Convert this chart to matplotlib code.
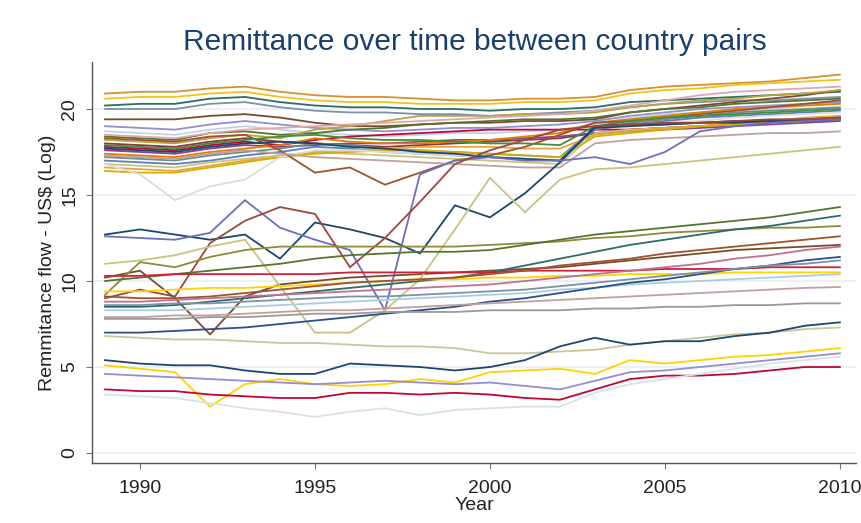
import numpy as np
import matplotlib
matplotlib.use('Agg')
import matplotlib.pyplot as plt

plt.rcParams['font.family'] = ['Liberation Sans', 'DejaVu Sans']

years = list(range(1989, 2011))

# upper cluster (log remittance, 1989-2010)
u01 = [20.9, 21.0, 21.0, 21.2, 21.3, 21.0, 20.8, 20.7, 20.7, 20.6, 20.5, 20.5, 20.6, 20.6, 20.7, 21.1, 21.3, 21.4, 21.5, 21.6, 21.8, 22.0]
u02 = [20.6, 20.7, 20.7, 20.9, 21.0, 20.7, 20.5, 20.4, 20.4, 20.3, 20.3, 20.3, 20.4, 20.4, 20.5, 20.9, 21.1, 21.2, 21.4, 21.5, 21.6, 21.7]
u03 = [20.2, 20.3, 20.3, 20.6, 20.7, 20.4, 20.2, 20.1, 20.1, 20.0, 20.0, 19.9, 20.0, 20.0, 20.1, 20.4, 20.5, 20.6, 20.7, 20.8, 20.9, 21.0]
u04 = [20.0, 20.0, 20.0, 20.3, 20.4, 20.1, 19.9, 19.8, 19.8, 19.7, 19.7, 19.6, 19.7, 19.8, 19.9, 20.1, 20.3, 20.4, 20.5, 20.5, 20.6, 20.7]
u05 = [19.4, 19.4, 19.4, 19.6, 19.7, 19.5, 19.2, 19.0, 19.0, 19.1, 19.2, 19.2, 19.3, 19.3, 19.4, 19.8, 20.0, 20.2, 20.4, 20.6, 20.8, 21.1]
u06 = [19.0, 18.9, 18.8, 19.1, 19.3, 19.1, 18.9, 18.8, 18.7, 18.8, 18.9, 18.9, 19.0, 19.1, 19.3, 19.6, 19.8, 20.0, 20.1, 20.2, 20.3, 20.4]
u07 = [18.7, 18.6, 18.5, 18.8, 19.0, 18.8, 18.6, 18.5, 18.4, 18.5, 18.6, 18.6, 18.7, 18.8, 19.1, 19.5, 19.7, 19.8, 19.9, 20.0, 20.2, 20.3]
u08 = [18.4, 18.3, 18.2, 18.6, 18.7, 18.5, 18.6, 18.8, 18.9, 19.1, 19.2, 19.3, 19.4, 19.4, 19.5, 19.8, 20.0, 20.1, 20.3, 20.4, 20.5, 20.6]
u09 = [18.2, 18.1, 18.0, 18.3, 18.5, 18.3, 18.8, 19.0, 19.3, 19.6, 19.6, 19.6, 19.7, 19.7, 19.8, 20.1, 20.3, 20.5, 20.6, 20.8, 20.9, 21.1]
u10 = [18.0, 17.9, 17.8, 18.1, 18.3, 18.1, 18.0, 17.9, 17.8, 17.9, 18.0, 18.1, 18.2, 18.3, 18.6, 18.8, 18.9, 19.0, 19.1, 19.2, 19.3, 19.4]
u11 = [17.8, 17.7, 17.6, 17.9, 18.1, 17.9, 18.2, 18.4, 18.5, 18.6, 18.7, 18.8, 18.8, 18.8, 18.8, 18.8, 18.9, 19.0, 19.1, 19.2, 19.3, 19.4]
u12 = [17.6, 17.5, 17.4, 17.7, 17.9, 17.8, 17.9, 18.0, 18.0, 18.1, 18.2, 18.2, 18.3, 18.4, 18.6, 18.7, 18.8, 18.9, 19.0, 19.1, 19.2, 19.3]
u13 = [17.4, 17.3, 17.2, 17.5, 17.7, 17.9, 18.3, 18.1, 18.0, 18.0, 18.1, 18.2, 18.4, 18.6, 19.2, 19.4, 19.6, 19.8, 20.0, 20.1, 20.2, 20.3]
u14 = [17.2, 17.1, 17.0, 17.3, 17.5, 17.7, 18.0, 17.9, 17.7, 17.6, 17.5, 17.4, 17.3, 17.2, 18.9, 19.2, 19.4, 19.6, 19.8, 19.9, 20.0, 20.1]
u15 = [17.0, 16.9, 16.8, 17.0, 17.3, 17.5, 17.8, 17.7, 17.5, 17.4, 17.3, 17.2, 17.1, 17.0, 18.8, 19.1, 19.3, 19.5, 19.6, 19.7, 19.8, 19.9]
u16 = [16.8, 16.7, 16.6, 16.9, 17.1, 17.3, 17.5, 17.4, 17.3, 17.2, 17.1, 17.0, 16.9, 16.8, 18.6, 18.8, 18.9, 19.0, 19.1, 19.2, 19.3, 19.4]
u17 = [16.6, 16.5, 16.4, 16.7, 17.0, 17.2, 17.5, 17.6, 17.7, 17.8, 17.8, 17.8, 17.7, 17.7, 18.5, 18.7, 18.9, 19.0, 19.2, 19.3, 19.5, 19.6]
u18 = [16.4, 16.3, 16.3, 16.6, 16.9, 17.2, 17.4, 17.5, 17.6, 17.6, 17.5, 17.4, 17.3, 17.2, 18.4, 18.6, 18.8, 19.0, 19.1, 19.2, 19.3, 19.5]
u19 = [16.8, 16.2, 14.7, 15.5, 15.9, 17.2, 17.6, 17.6, 17.5, 17.4, 17.3, 17.2, 17.1, 17.0, 18.9, 19.1, 19.2, 19.3, 19.5, 19.6, 19.7, 19.8]
u20 = [18.3, 18.2, 18.1, 18.4, 18.5, 17.6, 16.3, 16.6, 15.6, 16.3, 17.0, 17.3, 17.8, 18.5, 19.2, 19.3, 19.5, 19.7, 19.9, 20.1, 20.3, 20.5]
u21 = [17.9, 17.8, 17.7, 18.0, 18.2, 18.4, 18.5, 18.3, 18.2, 18.2, 18.1, 18.0, 18.0, 17.9, 19.0, 19.3, 19.5, 19.6, 19.7, 19.8, 19.9, 20.0]
u22 = [17.7, 17.6, 17.5, 17.8, 18.0, 18.1, 18.0, 17.8, 17.7, 17.5, 17.4, 17.2, 17.1, 17.0, 18.9, 19.0, 19.1, 19.2, 19.3, 19.3, 19.4, 19.5]
u23 = [18.5, 18.4, 18.3, 18.6, 18.8, 18.9, 19.0, 19.1, 19.2, 19.3, 19.4, 19.5, 19.6, 19.7, 19.9, 20.2, 20.5, 20.8, 21.0, 21.1, 21.2, 21.3]
u24 = [17.3, 17.2, 17.1, 17.4, 17.6, 17.4, 17.2, 17.1, 17.0, 16.9, 16.8, 16.7, 16.6, 16.6, 18.0, 18.2, 18.3, 18.4, 18.5, 18.6, 18.6, 18.7]

# middle cluster, incl. the zigzag pairs
m01 = [12.7, 13.0, 12.7, 12.4, 12.7, 11.3, 13.4, 13.0, 12.5, 11.6, 14.4, 13.7, 15.1, 16.9, 19.0, 19.1, 19.1, 19.2, 19.2, 19.3, 19.3, 19.4]
m02 = [12.6, 12.5, 12.4, 12.8, 14.7, 13.1, 12.4, 11.8, 8.3, 16.2, 17.0, 17.2, 17.0, 17.0, 17.2, 16.8, 17.5, 18.7, 19.0, 19.2, 19.3, 19.4]
m03 = [9.0, 9.5, 9.1, 12.2, 13.5, 14.3, 13.9, 10.8, 12.5, 14.6, 16.8, 17.6, 18.2, 18.8, 19.0, 19.1, 19.2, 19.2, 19.3, 19.4, 19.4, 19.5]
m04 = [10.2, 10.6, 9.0, 6.9, 9.1, 9.8, 10.0, 10.2, 10.3, 10.4, 10.5, 10.6, 10.7, 10.8, 11.0, 11.2, 11.4, 11.6, 11.8, 11.9, 12.0, 12.1]
m05 = [11.0, 11.2, 11.5, 12.0, 12.4, 9.7, 7.0, 7.0, 8.3, 10.1, 13.0, 16.0, 14.0, 15.9, 16.5, 16.6, 16.8, 17.0, 17.2, 17.4, 17.6, 17.8]
m06 = [9.2, 11.1, 10.8, 11.4, 11.8, 12.0, 12.0, 12.0, 12.0, 12.0, 12.0, 12.1, 12.2, 12.3, 12.5, 12.6, 12.8, 12.9, 13.0, 13.1, 13.1, 13.2]
m07 = [10.0, 10.2, 10.4, 10.6, 10.8, 11.0, 11.3, 11.5, 11.6, 11.7, 11.7, 11.8, 12.1, 12.4, 12.7, 12.9, 13.1, 13.3, 13.5, 13.7, 14.0, 14.3]
m08 = [8.5, 8.5, 8.6, 8.8, 9.0, 9.2, 9.4, 9.6, 9.8, 10.0, 10.2, 10.5, 10.9, 11.3, 11.7, 12.1, 12.4, 12.7, 13.0, 13.2, 13.5, 13.8]
m09 = [10.3, 10.3, 10.4, 10.4, 10.4, 10.4, 10.4, 10.5, 10.5, 10.5, 10.5, 10.5, 10.6, 10.6, 10.6, 10.6, 10.7, 10.7, 10.7, 10.8, 10.8, 10.8]
m10 = [9.4, 9.4, 9.5, 9.6, 9.6, 9.7, 9.8, 9.9, 10.0, 10.1, 10.1, 10.2, 10.2, 10.3, 10.3, 10.4, 10.4, 10.4, 10.5, 10.5, 10.5, 10.5]
m11 = [9.1, 9.0, 9.0, 9.1, 9.3, 9.5, 9.7, 9.9, 10.0, 10.1, 10.2, 10.4, 10.6, 10.9, 11.1, 11.3, 11.6, 11.8, 12.0, 12.2, 12.4, 12.6]
m12 = [8.8, 8.8, 8.9, 9.0, 9.1, 9.2, 9.3, 9.4, 9.5, 9.6, 9.7, 9.8, 10.0, 10.2, 10.4, 10.6, 10.8, 11.0, 11.3, 11.5, 11.8, 12.0]
m13 = [8.3, 8.3, 8.3, 8.4, 8.5, 8.6, 8.7, 8.8, 8.9, 9.0, 9.1, 9.2, 9.3, 9.5, 9.6, 9.8, 9.9, 10.0, 10.1, 10.2, 10.3, 10.4]
m14 = [7.0, 7.0, 7.1, 7.2, 7.3, 7.5, 7.7, 7.9, 8.1, 8.3, 8.5, 8.8, 9.0, 9.3, 9.6, 9.9, 10.1, 10.4, 10.7, 10.9, 11.2, 11.4]
m15 = [7.9, 7.9, 8.0, 8.0, 8.1, 8.2, 8.3, 8.3, 8.4, 8.5, 8.6, 8.7, 8.8, 8.9, 9.0, 9.1, 9.2, 9.3, 9.4, 9.5, 9.6, 9.65]
m16 = [7.8, 7.8, 7.8, 7.9, 7.9, 8.0, 8.1, 8.1, 8.2, 8.2, 8.2, 8.3, 8.3, 8.3, 8.4, 8.4, 8.5, 8.5, 8.6, 8.6, 8.7, 8.7]
m17 = [8.6, 8.6, 8.7, 8.7, 8.8, 8.9, 9.0, 9.1, 9.1, 9.2, 9.3, 9.4, 9.5, 9.7, 9.9, 10.1, 10.3, 10.5, 10.7, 10.9, 11.0, 11.2]
m18 = [6.8, 6.7, 6.6, 6.6, 6.5, 6.4, 6.4, 6.3, 6.2, 6.2, 6.1, 5.8, 5.8, 5.9, 6.0, 6.3, 6.5, 6.7, 6.9, 7.0, 7.2, 7.3]

# lower cluster
l01 = [5.4, 5.2, 5.1, 5.1, 4.8, 4.6, 4.6, 5.2, 5.1, 5.0, 4.8, 5.0, 5.4, 6.2, 6.7, 6.3, 6.5, 6.5, 6.8, 7.0, 7.4, 7.6]
l02 = [5.1, 4.9, 4.7, 2.7, 4.0, 4.3, 4.0, 3.9, 4.0, 4.3, 4.1, 4.7, 4.8, 4.9, 4.6, 5.4, 5.2, 5.4, 5.6, 5.7, 5.9, 6.1]
l03 = [4.6, 4.5, 4.4, 4.3, 4.2, 4.1, 4.0, 4.1, 4.2, 4.1, 4.0, 4.1, 3.9, 3.7, 4.2, 4.7, 4.8, 5.0, 5.2, 5.4, 5.6, 5.8]
l04 = [3.7, 3.6, 3.6, 3.4, 3.3, 3.2, 3.2, 3.5, 3.5, 3.4, 3.5, 3.4, 3.2, 3.1, 3.7, 4.3, 4.5, 4.5, 4.6, 4.8, 5.0, 5.0]
l05 = [3.4, 3.3, 3.2, 2.9, 2.6, 2.4, 2.1, 2.4, 2.6, 2.2, 2.5, 2.6, 2.7, 2.7, 3.5, 4.0, 4.3, 4.6, 4.9, 5.2, 5.4, 5.6]

series = [u01, u02, u03, u04, u05, u06, u07, u08, u09, u10, u11, u12,
          u13, u14, u15, u16, u17, u18, u19, u20, u21, u22, u23, u24,
          m01, m02, m03, m04, m05, m06, m07, m08, m09, m10, m11, m12,
          m13, m14, m15, m16, m17, m18,
          l01, l02, l03, l04, l05]

colors = ['#d9902f', '#f0c419', '#2d6d66', '#7b92a8', '#7a4b2a', '#938dd2',
          '#bcd6e6', '#55752f', '#b5a642', '#90353b', '#c10534', '#8e3f8e',
          '#e37e00', '#6e8e84', '#5b7fb5', '#cac27e', '#e8a33d', '#d4b000',
          '#dcdcdc', '#a0522d', '#3f8f3f', '#1a476f', '#e3a6b0', '#bfa19c',
          '#1a476f', '#6a6fc0', '#a0453a', '#7a4b2a', '#cac27e', '#8f8a3a',
          '#55752f', '#2d6d66', '#d0203a', '#ffd200', '#a0522d', '#c07090',
          '#a9cde0', '#2a4f8f', '#bfa19c', '#9a9a9a', '#7b92a8', '#c9c79a',
          '#1a476f', '#ffd200', '#938dd2', '#c10534', '#d5e3ea']

fig = plt.figure(figsize=(8.61, 5.23), dpi=100)
ax = fig.add_axes([0.1069, 0.1147, 0.8873, 0.7667])

for s, c in zip(series, colors):
    ax.plot(years, s, color=c, lw=1.3, solid_joinstyle='miter')

ax.set_xlim(1988.63, 2010.46)
ax.set_ylim(-0.58, 22.73)
ax.set_xticks([1990, 1995, 2000, 2005, 2010])
ax.set_yticks([0, 5, 10, 15, 20])
ax.grid(axis='y', color='#e8eff2', lw=1.2)
ax.set_axisbelow(True)

for side in ['top', 'right']:
    ax.spines[side].set_visible(False)
for side in ['left', 'bottom']:
    ax.spines[side].set_color('#555555')
    ax.spines[side].set_linewidth(1.0)

ax.tick_params(axis='both', length=4, color='#777777', labelsize=14, labelcolor='#222222')
ax.tick_params(axis='x', pad=8)
ax.tick_params(axis='y', pad=6)
for lab in ax.get_yticklabels():
    lab.set_rotation(90)
    lab.set_va('center')

ax.set_xlabel('Year', fontsize=14, labelpad=0, color='#222222')
ax.set_ylabel('Remmitance flow - US$ (Log)', fontsize=14, labelpad=4, color='#222222')

fig.text(0.552, 0.92, 'Remittance over time between country pairs',
         ha='center', va='center', fontsize=21.5, color='#1a3f6f')

fig.savefig('out.png', dpi=100)
